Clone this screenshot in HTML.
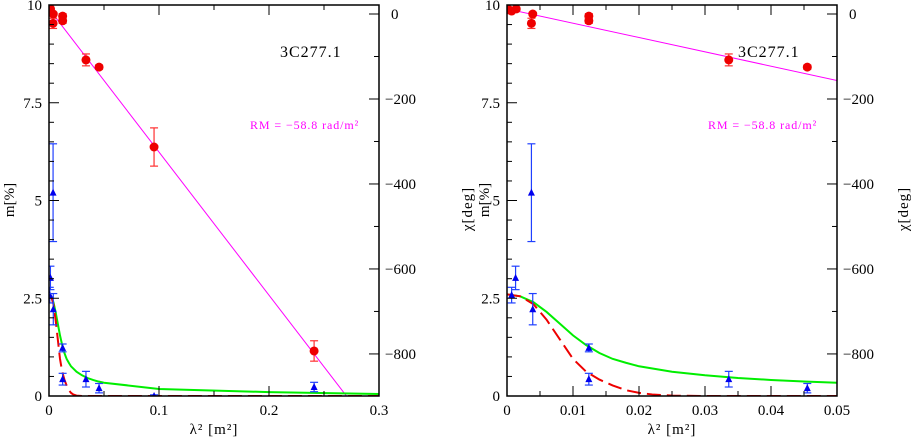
<!DOCTYPE html>
<html><head><meta charset="utf-8"><style>
html,body{margin:0;padding:0;background:#fff;}
svg{display:block;font-family:"Liberation Serif","DejaVu Serif",serif;}
</style></head><body>
<svg id="chart" width="913" height="438" viewBox="0 0 913 438"></svg>
<script>
// Data (shared between panels)
const mLam = [0.0007, 0.0013, 0.0037, 0.0039, 0.0124, 0.0124, 0.0336, 0.0455, 0.0955, 0.241];
const mVal = [2.58, 3.02, 5.2, 2.22, 1.23, 0.43, 0.43, 0.2, 0.0, 0.23];
const mErr = [0.2, 0.3, 1.25, 0.4, 0.1, 0.15, 0.2, 0.12, 0.03, 0.12];
const chiLam = [0.0003, 0.0007, 0.0014, 0.0037, 0.0039, 0.0124, 0.0124, 0.0336, 0.0455, 0.0955, 0.241];
const chiVal = [10, 7, 12, -22, 0, -5, -16, -108, -125, -313, -793];
const chiErr = [4, 4, 4, 12, 4, 6, 6, 14, 5, 45, 24];
const rmVal = -58.8; // rad/m^2
const chi0 = 12;
const dashLam = [0, 0.002, 0.004, 0.006, 0.008, 0.010, 0.012, 0.014, 0.016, 0.018, 0.020, 0.022, 0.025, 0.030, 0.3];
const dashVal = [2.6, 2.55, 2.35, 1.95, 1.45, 0.95, 0.62, 0.42, 0.27, 0.15, 0.08, 0.04, 0.01, 0, 0];
const greenLam = [0, 0.002, 0.004, 0.006, 0.008, 0.010, 0.012, 0.014, 0.016, 0.018, 0.020, 0.025, 0.030, 0.035, 0.040, 0.045, 0.05, 0.1, 0.2, 0.3];
const greenVal = [2.6, 2.55, 2.4, 2.15, 1.85, 1.55, 1.3, 1.1, 0.95, 0.85, 0.76, 0.62, 0.53, 0.46, 0.41, 0.37, 0.34, 0.18, 0.1, 0.05];
const mTicks = ["0", "2.5", "5", "7.5", "10"];
const chiTicks = ["0", "−200", "−400", "−600", "−800"];
const leftXTicks = ["0", "0.1", "0.2", "0.3"];
const rightXTicks = ["0", "0.01", "0.02", "0.03", "0.04", "0.05"];

const NS = "http://www.w3.org/2000/svg";
const svg = document.getElementById("chart");
function mk(tag, attrs, parent) {
  const e = document.createElementNS(NS, tag);
  for (const k in attrs) e.setAttribute(k, attrs[k]);
  (parent || svg).appendChild(e);
  return e;
}
const T = 5, B = 396, CHITOP = 21.2, CHIBOT = -899;

function panel(L, R, xmax, xMajor, xMinor, xLabels, pname, mTitleX, chiTitleX) {
  const g = mk("g", {});
  
  
  const xs = v => L + (v / xmax) * (R - L);
  const ym = v => B - (v / 10) * (B - T);
  const yc = v => T + (CHITOP - v) / (CHITOP - CHIBOT) * (B - T);
  const cid = pname + "-clip";
  const defs = mk("defs", {}, g);
  const cp = mk("clipPath", {id: cid}, defs);
  mk("rect", {x: L, y: T, width: R - L, height: B - T}, cp);
  const plot = mk("g", {"clip-path": "url(#" + cid + ")"}, g);

  const rmDeg = rmVal * 180 / Math.PI;
  const rl = mk("line", {x1: xs(0), y1: yc(chi0), x2: xs(xmax), y2: yc(chi0 + rmDeg * xmax), stroke: "#ff00ff", "stroke-width": 1}, plot);
  
  

  let d = "";
  greenLam.forEach((l, i) => { d += (i ? "L" : "M") + xs(l).toFixed(2) + "," + ym(greenVal[i]).toFixed(2); });
  const gp = mk("path", {d: d, fill: "none", stroke: "#00ee00", "stroke-width": 2}, plot);
  
  
  d = "";
  dashLam.forEach((l, i) => { d += (i ? "L" : "M") + xs(l).toFixed(2) + "," + ym(dashVal[i]).toFixed(2); });
  const rp = mk("path", {d: d, fill: "none", stroke: "#ee0000", "stroke-width": 2, "stroke-dasharray": "14,6"}, plot);
  
  

  chiLam.forEach((l, i) => {
    const x = xs(l), y = yc(chiVal[i]), e1 = yc(chiVal[i] + chiErr[i]), e2 = yc(chiVal[i] - chiErr[i]);
    const pg = mk("g", {}, plot);
    
    
    mk("line", {x1: x, y1: e1, x2: x, y2: e2, stroke: "#ff3030", "stroke-width": 1.2}, pg);
    mk("line", {x1: x - 4, y1: e1, x2: x + 4, y2: e1, stroke: "#ff3030", "stroke-width": 1.2}, pg);
    mk("line", {x1: x - 4, y1: e2, x2: x + 4, y2: e2, stroke: "#ff3030", "stroke-width": 1.2}, pg);
    mk("circle", {cx: x, cy: y, r: 4.5, fill: "#ee0000"}, pg);
  });
  mLam.forEach((l, i) => {
    const x = xs(l), y = ym(mVal[i]), e1 = ym(mVal[i] + mErr[i]), e2 = ym(Math.max(mVal[i] - mErr[i], -0.2));
    const pg = mk("g", {}, plot);
    
    
    mk("line", {x1: x, y1: e1, x2: x, y2: e2, stroke: "#2040ff", "stroke-width": 1.2}, pg);
    mk("line", {x1: x - 4, y1: e1, x2: x + 4, y2: e1, stroke: "#2040ff", "stroke-width": 1.2}, pg);
    mk("line", {x1: x - 4, y1: e2, x2: x + 4, y2: e2, stroke: "#2040ff", "stroke-width": 1.2}, pg);
    mk("polygon", {points: (x - 3.5) + "," + (y + 3) + " " + (x + 3.5) + "," + (y + 3) + " " + x + "," + (y - 4), fill: "#0000ee"}, pg);
  });

  const fr = mk("rect", {x: L, y: T, width: R - L, height: B - T, fill: "none", stroke: "#000", "stroke-width": 1.5}, g);
  
  
  const tk = mk("g", {stroke: "#000", "stroke-width": 1}, g);
  for (let v = 0; v <= xmax + 1e-9; v += xMinor) {
    const major = Math.abs(v / xMajor - Math.round(v / xMajor)) < 1e-6;
    const len = major ? 10 : 5, x = xs(v);
    mk("line", {x1: x, y1: B, x2: x, y2: B - len}, tk);
    mk("line", {x1: x, y1: T, x2: x, y2: T + len}, tk);
  }
  for (let v = 0; v <= 10; v += 0.5) {
    const major = Math.abs(v % 2.5) < 1e-6, len = major ? 10 : 5;
    mk("line", {x1: L, y1: ym(v), x2: L + len, y2: ym(v)}, tk);
  }
  for (let v = 0; v >= -800; v -= 100) {
    const major = v % 200 === 0, len = major ? 10 : 5;
    mk("line", {x1: R, y1: yc(v), x2: R - len, y2: yc(v)}, tk);
  }
  mTicks.forEach((s, i) => {
    const t = mk("text", {x: L - 7, y: ym(i * 2.5) + 5, "text-anchor": "end", "font-size": 15}, g);
    t.textContent = s;
    
    
  });
  chiTicks.forEach((s, i) => {
    const t = mk("text", {x: R + (i ? 6 : 12), y: yc(-200 * i) + 5, "text-anchor": "start", "font-size": 15}, g);
    t.textContent = s;
    
    
  });
  xLabels.forEach((s, i) => {
    const t = mk("text", {x: xs(i * xMajor), y: 415, "text-anchor": "middle", "font-size": 15}, g);
    t.textContent = s;
    
    
  });
  const xt = mk("text", {x: (L + R) / 2, y: 434, "text-anchor": "middle", "font-size": 15, "letter-spacing": "1"}, g);
  xt.textContent = "λ² [m²]";
  
  
  const yt = mk("text", {x: 0, y: 0, "text-anchor": "middle", "font-size": 15, transform: "translate(" + mTitleX + ",200) rotate(-90)"}, g);
  yt.textContent = "m[%]";
  
  
  const ct = mk("text", {x: 0, y: 0, "text-anchor": "middle", "font-size": 15, "letter-spacing": "1", transform: "translate(" + chiTitleX + ",209) rotate(-90)"}, g);
  ct.textContent = "χ[deg]";
  
  
  const st = mk("text", {x: R - 99, y: 57, "text-anchor": "start", "font-size": 16, "letter-spacing": "1"}, g);
  st.textContent = "3C277.1";
  
  
  const rt = mk("text", {x: R - 129, y: 129, "text-anchor": "start", "font-size": 12, "letter-spacing": "0.9", fill: "#ff00ff"}, g);
  rt.textContent = "RM = −58.8 rad/m²";
  
  
}
panel(49, 379, 0.3, 0.1, 0.05, leftXTicks, "left-panel", 14, 472);
panel(507, 837, 0.05, 0.01, 0.005, rightXTicks, "right-panel", 489, 908);
</script>
</body></html>
